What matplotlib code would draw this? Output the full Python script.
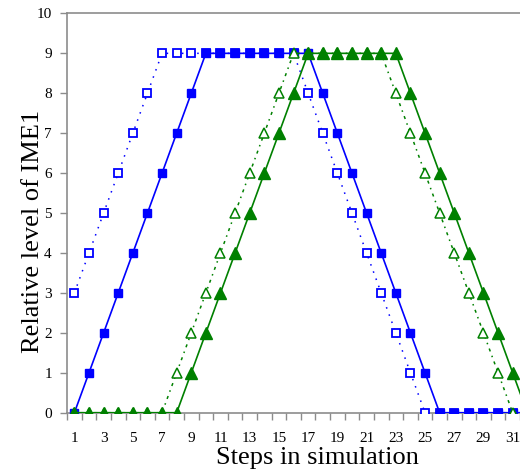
import numpy as np
import matplotlib
matplotlib.use('Agg')
import matplotlib.pyplot as plt

# ── data (steps 1..32, axis shows 1..31) ─────────────────────────────
steps = np.arange(1, 33)

blue_open = [3, 4, 5, 6, 7, 8, 9, 9, 9, 9, 9, 9, 9, 9, 9, 9,
             8, 7, 6, 5, 4, 3, 2, 1, 0, 0, 0, 0, 0, 0, 0, 0]
blue_fill = [0, 1, 2, 3, 4, 5, 6, 7, 8, 9, 9, 9, 9, 9, 9, 9, 9,
             8, 7, 6, 5, 4, 3, 2, 1, 0, 0, 0, 0, 0, 0, 0]
green_open = [0, 0, 0, 0, 0, 0, 0, 1, 2, 3, 4, 5, 6, 7, 8, 9,
              9, 9, 9, 9, 9, 9, 8, 7, 6, 5, 4, 3, 2, 1, 0, 0]
green_fill = [0, 0, 0, 0, 0, 0, 0, 0, 1, 2, 3, 4, 5, 6, 7, 8, 9,
              9, 9, 9, 9, 9, 9, 8, 7, 6, 5, 4, 3, 2, 1, 0]

x_labels = [str(i) for i in range(1, 32, 2)]

BLUE = '#0000FF'
GREEN = '#008000'
AXIS_GREY = '#8c8c8c'

plt.rcParams['font.family'] = ['Liberation Serif', 'DejaVu Serif']

fig = plt.figure(figsize=(5.2, 4.72), dpi=100)
ax = fig.add_axes([0.129, 0.1256, 0.871, 0.846])

ax.plot(steps, blue_open, color=BLUE, lw=1.1, ls=(0, (1, 4)),
        marker='s', ms=5.5, mfc='white', mec=BLUE, mew=1.3, zorder=3)
ax.plot(steps, blue_fill, color=BLUE, lw=1.2, ls='-',
        marker='s', ms=6, mfc=BLUE, mec=BLUE, zorder=4)
ax.plot(steps, green_open, color=GREEN, lw=1.1, ls=(0, (1, 3, 2, 3)),
        marker='^', ms=7, mfc='white', mec=GREEN, mew=1.1, zorder=5)
ax.plot(steps, green_fill, color=GREEN, lw=1.2, ls='-',
        marker='^', ms=8, mfc=GREEN, mec=GREEN, zorder=6)

ax.set_xlim(0.5, 31.5)
ax.set_ylim(0, 10)

# ticks between categories, labels on odd steps
ax.set_xticks(np.arange(0.5, 32, 1))
ax.set_xticks(np.arange(1, 32, 2), minor=True)
ax.set_xticklabels(x_labels, minor=True)
ax.tick_params(axis='x', which='major', length=5, direction='out',
               color=AXIS_GREY, width=1, labelbottom=False)
ax.tick_params(axis='x', which='minor', length=0, pad=14, labelsize=11)

ax.set_yticks(range(0, 11))
ax.tick_params(axis='y', length=5, direction='out', color=AXIS_GREY,
               width=1, labelsize=11, pad=6)

for side in ['left', 'top', 'bottom']:
    ax.spines[side].set_color(AXIS_GREY)
    ax.spines[side].set_linewidth(1.2)
ax.spines['right'].set_visible(False)

ax.set_xlabel('Steps in simulation', fontsize=19)
ax.set_ylabel('Relative level of IME1', fontsize=19)
ax.xaxis.set_label_coords(0.552, -0.085)
ax.yaxis.set_label_coords(-0.05, 0.455)

fig.savefig('out.png', dpi=100, facecolor='white')
